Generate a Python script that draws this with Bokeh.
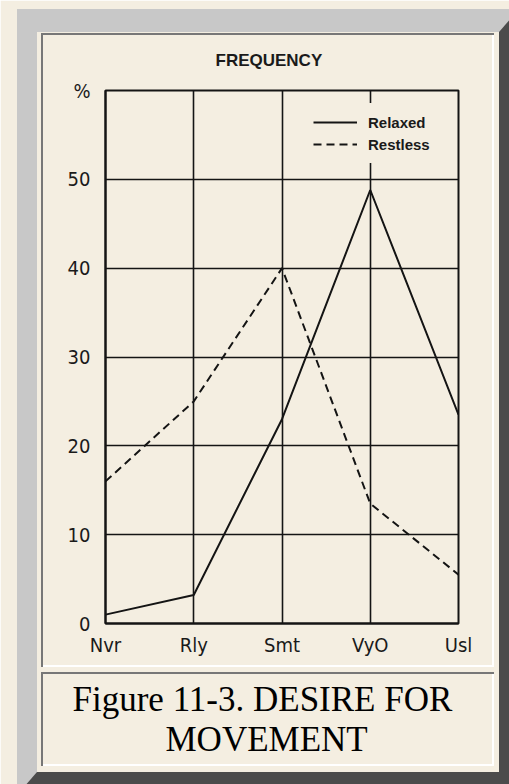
from bokeh.plotting import figure
from bokeh.models import (Range1d, FixedTicker, Legend, LegendItem, Title,
                          InlineStyleSheet)
from bokeh.embed import file_html
from bokeh.resources import INLINE

# ---- data ----
categories = ["Nvr", "Rly", "Smt", "VyO", "Usl"]
relaxed = [1, 3.2, 23, 48.8, 23.5]
restless = [16, 25, 40, 13.5, 5.5]
y_ticks = [0, 10, 20, 30, 40, 50, 60]
y_tick_labels = ["0", "10", "20", "30", "40", "50", "%"]
title_text = "FREQUENCY"
caption_lines = ["Figure 11-3. DESIRE FOR", "MOVEMENT"]

BG = "#f4eee1"
INK = "#141414"
W, H = 509, 784
# plot frame in page pixels
PL, PR, PT, PB = 105, 458, 90, 623

p = figure(width=W, height=H, output_backend="svg", toolbar_location=None,
           x_range=Range1d(0, len(categories) - 1), y_range=Range1d(0, 60),
           min_border_left=PL, min_border_right=W - PR,
           min_border_top=PT, min_border_bottom=H - PB,
           border_fill_color=BG, background_fill_color=BG)

# title (above the frame)
p.title.text = title_text
p.title.align = "left"
p.title.offset = 215 - PL
p.title.standoff = 42
p.title.text_font = "Liberation Sans"
p.title.text_font_style = "bold"
p.title.text_font_size = "17px"
p.title.text_color = "#1a1a1a"

# grids
p.xgrid.ticker = FixedTicker(ticks=list(range(1, len(categories) - 1)))
p.ygrid.ticker = FixedTicker(ticks=y_ticks[1:-1])
for g in (p.xgrid, p.ygrid):
    g.grid_line_color = INK
    g.grid_line_width = 1.6

# axes
p.xaxis.ticker = FixedTicker(ticks=list(range(len(categories))))
p.xaxis.major_label_overrides = {i: c for i, c in enumerate(categories)}
p.yaxis.ticker = FixedTicker(ticks=y_ticks)
p.yaxis.major_label_overrides = {t: l for t, l in zip(y_ticks, y_tick_labels)}
for ax in (p.xaxis, p.yaxis):
    ax.axis_line_color = INK
    ax.axis_line_width = 2
    ax.major_tick_line_color = None
    ax.minor_tick_line_color = None
    ax.major_tick_in = 0
    ax.major_tick_out = 0
    ax.major_label_text_font = "DejaVu Sans Condensed"
    ax.major_label_text_font_size = "20px"
    ax.major_label_text_color = "#1a1a1a"
p.xaxis.major_label_standoff = 9
p.yaxis.major_label_standoff = 15

p.outline_line_color = INK
p.outline_line_width = 2
p.outline_line_alpha = 1

xs = list(range(len(categories)))
r1 = p.line(x=xs, y=relaxed, line_color=INK, line_width=2)
r2 = p.line(x=xs, y=restless, line_color=INK, line_width=2, line_dash="8 5")

legend = Legend(items=[LegendItem(label="Relaxed", renderers=[r1]),
                       LegendItem(label="Restless", renderers=[r2])],
                location=(305 - PL, PB - 163),
                glyph_width=44, glyph_height=22, label_height=22,
                label_standoff=11, padding=8, spacing=0, margin=0,
                border_line_alpha=0, background_fill_color=BG,
                background_fill_alpha=1.0,
                label_text_font="Liberation Sans", label_text_font_style="bold",
                label_text_font_size="15px", label_text_color="#1a1a1a")
p.add_layout(legend)

# caption (below the x axis), two lines
cap1 = Title(text=caption_lines[0], align="left", offset=72 - PL, standoff=37,
             text_font="Liberation Serif", text_font_style="normal",
             text_font_size="35px", text_color="#000000")
cap2 = Title(text=caption_lines[1], align="left", offset=165 - PL, standoff=-40,
             text_font="Liberation Serif", text_font_style="normal",
             text_font_size="35px", text_color="#000000")
p.add_layout(cap1, "below")
p.add_layout(cap2, "below")

# decorative bevel frame and inset panel lines (page chrome)
LIGHT, DARK, SHADE, HI = "#c8c8c8", "#4b4b4b", "#777777", "#ffffff"
OX, OY = 17, 9
rects = []
for (t, b) in ((33, 667), (672, 766)):
    rects += [(41, t, 453, 2, SHADE), (41, t, 2, b - t, SHADE),
              (41, b - 2, 453, 2, HI), (492, t, 2, b - t, HI)]
layers = ", ".join(
    f"linear-gradient({c}, {c}) {x - OX}px {y - OY}px / {w}px {h}px no-repeat"
    for (x, y, w, h, c) in rects)
css = (":host::after { content: ''; position: fixed; left: %dpx; top: %dpx; "
       "width: 502px; height: 786px; box-sizing: border-box; border-style: solid; "
       "border-width: 23px 20px 23px 20px; border-color: %s %s %s %s; "
       "background: %s; background-origin: border-box; pointer-events: none; z-index: 10; }"
       % (OX, OY, LIGHT, DARK, DARK, LIGHT, layers))
p.stylesheets = [InlineStyleSheet(css=css)]

open("out.html", "w").write(file_html(p, INLINE))
